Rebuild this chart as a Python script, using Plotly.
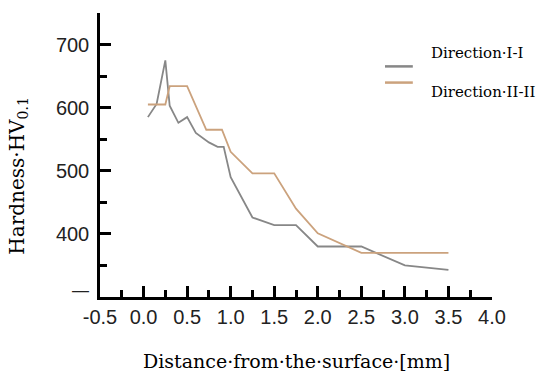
import plotly.graph_objects as go

# Direction I-I (gray)
x_dir1 = [0.05, 0.15, 0.25, 0.3, 0.4, 0.5, 0.6, 0.75, 0.85, 0.92, 1.0, 1.25, 1.5, 1.75, 2.0, 2.5, 3.0, 3.5]
y_dir1 = [585, 606, 675, 603, 576, 585, 560, 545, 538, 538, 490, 426, 414, 414, 380, 380, 350, 343]

# Direction II-II (tan)
x_dir2 = [0.05, 0.25, 0.3, 0.5, 0.72, 0.9, 1.0, 1.25, 1.5, 1.75, 2.0, 2.5, 3.0, 3.5]
y_dir2 = [605, 605, 634, 634, 565, 565, 530, 496, 496, 440, 401, 370, 370, 370]

x_ticks = [-0.5, 0.0, 0.5, 1.0, 1.5, 2.0, 2.5, 3.0, 3.5, 4.0]
x_ticklabels = ["-0.5", "0.0", "0.5", "1.0", "1.5", "2.0", "2.5", "3.0", "3.5", "4.0"]
y_ticks = [300, 400, 500, 600, 700]
y_ticklabels = ["", "400", "500", "600", "700"]

names = ["Direction·I-I", "Direction·II-II"]
x_title = "Distance·from·the·surface·[mm]"
y_title = "Hardness·HV<sub>0.1</sub>"

GRAY = "#878787"
TAN = "#cba27d"
SERIF = "DejaVu Serif, Liberation Serif, serif"
SANS = "Liberation Sans, Arial, sans-serif"

fig = go.Figure()
fig.add_trace(go.Scatter(x=x_dir1, y=y_dir1, mode="lines", name=names[0],
                         line=dict(color=GRAY, width=1.8), showlegend=False))
fig.add_trace(go.Scatter(x=x_dir2, y=y_dir2, mode="lines", name=names[1],
                         line=dict(color=TAN, width=1.8), showlegend=False))

axis_common = dict(showline=True, linecolor="black", linewidth=2.5, showgrid=False,
                   zeroline=False, ticks="inside", tickcolor="black", tickwidth=2.5,
                   ticklen=11, tickfont=dict(family=SANS, size=20, color="#222"))

fig.update_xaxes(range=[-0.5, 4.0], tickvals=x_ticks, ticktext=x_ticklabels,
                 ticklabelstandoff=0,
                 minor=dict(ticks="inside", ticklen=7, tickwidth=2.5, tickcolor="black", dtick=0.25,
                            tick0=-0.5),
                 **axis_common)
fig.update_yaxes(range=[300, 750], tickvals=y_ticks, ticktext=y_ticklabels,
                 ticklabelstandoff=4,
                 minor=dict(ticks="inside", ticklen=7, tickwidth=2.5, tickcolor="black", dtick=50,
                            tick0=300),
                 **axis_common)

# axis titles
fig.add_annotation(xref="paper", yref="paper", x=0.5, y=-0.224, text=x_title, showarrow=False,
                   xanchor="center", yanchor="middle", font=dict(family=SERIF, size=19, color="black"))
fig.add_annotation(xref="paper", yref="paper", x=-0.21, y=0.426, text=y_title, showarrow=False,
                   textangle=-90, xanchor="center", yanchor="middle",
                   font=dict(family=SERIF, size=20, color="black"))
# dash label at the bottom of the y axis
fig.add_annotation(xref="paper", yref="y", x=-0.051, y=311, text="—", showarrow=False,
                   xanchor="center", yanchor="middle", font=dict(family=SANS, size=17, color="#222"))

# legend drawn manually to match the reference layout
fig.add_shape(type="line", xref="paper", yref="paper", x0=0.727, x1=0.798, y0=0.812, y1=0.812,
              line=dict(color=GRAY, width=2.5))
fig.add_shape(type="line", xref="paper", yref="paper", x0=0.727, x1=0.798, y0=0.755, y1=0.755,
              line=dict(color=TAN, width=2.5))
fig.add_annotation(xref="paper", yref="paper", x=0.84, y=0.859, text=names[0], showarrow=False,
                   xanchor="left", yanchor="middle", font=dict(family=SERIF, size=15, color="black"))
fig.add_annotation(xref="paper", yref="paper", x=0.84, y=0.723, text=names[1], showarrow=False,
                   xanchor="left", yanchor="middle", font=dict(family=SERIF, size=15, color="black"))

# the page has an 8px body margin, compensated in the margins
fig.update_layout(width=550, height=379, margin=dict(l=92, r=66, t=5, b=90),
                  plot_bgcolor="white", paper_bgcolor="white")

fig.write_html("out.html")
